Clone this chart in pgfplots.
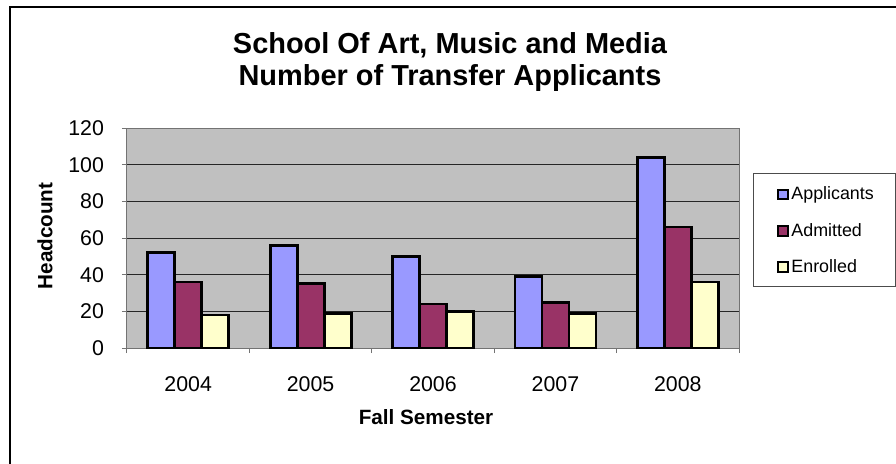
\documentclass[border=0pt]{standalone}
\usepackage{fontspec}
\setmainfont{Liberation Sans}
\usepackage{pgfplots}
\pgfplotsset{compat=1.18}
\definecolor{appl}{HTML}{9999FF}
\definecolor{adm}{HTML}{993366}
\definecolor{enr}{HTML}{FFFFCC}
\definecolor{plotbg}{HTML}{C0C0C0}
\begin{document}
\begin{tikzpicture}[x=0.75pt,y=-0.75pt]
\useasboundingbox (0,0) rectangle (896,464);
\draw[line width=1.8pt] (10,7) rectangle (1000,700);
\node[font=\bfseries\fontsize{21.7}{23.5}\selectfont, align=center] at (450,62) {School Of Art, Music and Media\\Number of Transfer Applicants};
\node[font=\bfseries\fontsize{15.5}{18}\selectfont, rotate=90] at (45,236) {Headcount};
\node[font=\bfseries\fontsize{15.5}{18}\selectfont] at (426,417) {Fall Semester};
\coordinate (AX) at (127,348);
\begin{axis}[
  at={(AX)}, anchor=south west, scale only axis,
  width=459pt, height=165pt,
  xmin=-0.5, xmax=4.5, ymin=0, ymax=120,
  ytick={0,20,...,120},
  xtick={0,...,4}, xticklabels={2004,2005,2006,2007,2008},
  minor xtick={-0.5,0.5,...,4.5},
  major x tick style={draw=none},
  tick pos=left,
  tick align=outside,
  major tick length=3.75pt, minor tick length=3.75pt,
  tick style={black!55, line width=0.75pt},
  x tick label style={yshift=-14.5pt},
  y tick label style={xshift=-10pt},
  ticklabel style={font=\fontsize{16}{19}\selectfont},
  /pgf/number format/assume math mode=true,
  axis line style={black!55, line width=0.75pt},
  axis background/.style={fill=plotbg},
  ymajorgrids, major grid style={black!85, line width=0.75pt},
  ybar=0pt, bar width=20.25pt,
  every axis plot post/.append style={line width=2.1pt,
    legend image code/.code={\draw[draw=black,line width=1.4pt] (0pt,-3.6pt) rectangle (7.2pt,3.6pt);}},
  legend style={at={(rel axis cs:1.0621,0.745)}, anchor=north west, draw=none, fill=none,
    inner sep=0pt, row sep=12pt, font=\fontsize{13.4}{15}\selectfont, nodes={inner xsep=2pt}},
  legend cell align=left,
]
\addplot[fill=appl, draw=black, line width=2.1pt] coordinates {(0,52) (1,56) (2,50) (3,39) (4,104)};
\addplot[fill=adm, draw=black, line width=2.1pt] coordinates {(0,36) (1,35) (2,24) (3,25) (4,66)};
\addplot[fill=enr, draw=black, line width=2.1pt] coordinates {(0,18) (1,19) (2,20) (3,19) (4,36)};
\legend{Applicants,Admitted,Enrolled}
\end{axis}
\draw[black!70, line width=0.75pt] (753,173) rectangle (895,286);
\end{tikzpicture}
\end{document}
